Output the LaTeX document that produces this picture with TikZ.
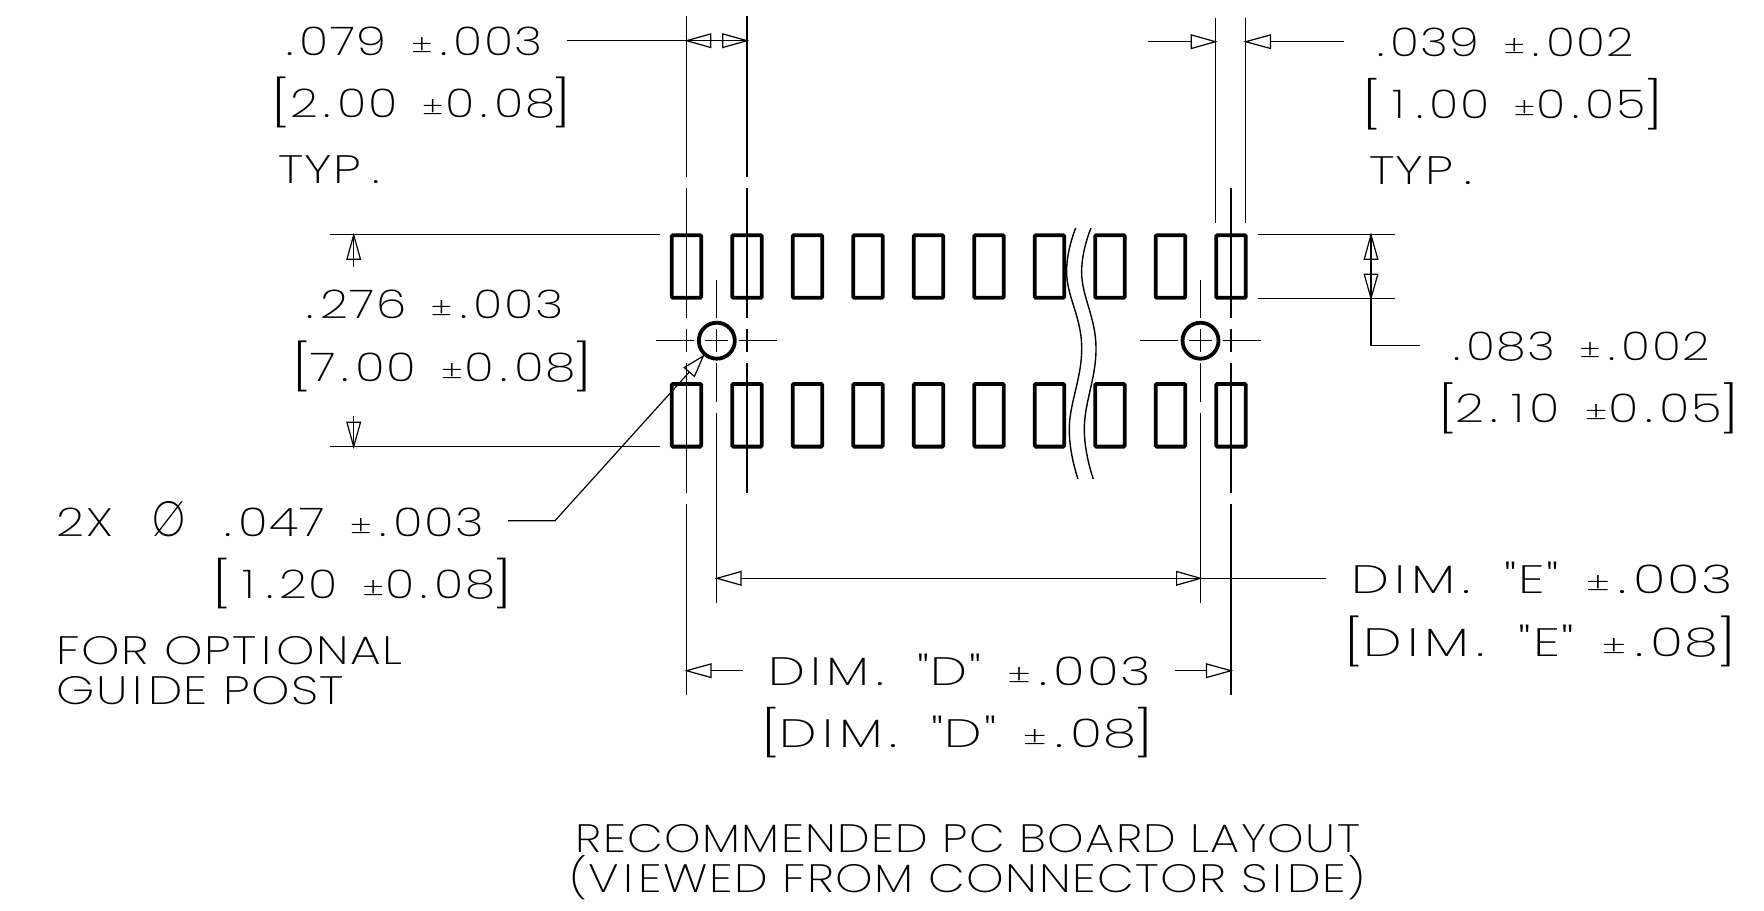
\documentclass[tikz,border=0pt]{standalone}
\usepackage{fontspec}
\usepackage{graphicx}
\usetikzlibrary{calc}
\newfontfamily\cad[LetterSpace=3]{Poppins ExtraLight}
\newfontfamily\cadplain{Poppins ExtraLight}
\newdimen\cadpx \cadpx=0.5pt
\newcommand\cadpm{\scalebox{.72}{±}\kern.03em}
\newcommand\dt{\kern.13em.\kern.13em}
\newcommand\dts{.\kern.13em}
\newcommand\one{\kern.12em 1\kern.1em}
\newcommand\ii{\kern.1em I\kern.1em}
\newcommand\gapw{\hspace{.5em}}
\newcommand\cadfit[2]{\resizebox{#1\cadpx}{\height}{\cad #2}}
% one text line: name, x-left, x-right, baseline, text
\newcommand\cadline[5]{\node[cadtext,yshift=-0.5pt] (#1) at (#2,#4) {\cadfit{\fpeval{#3-#2}}{#5}};}
% bracketed text: name, xL, xR, ytop, ybot, tL, tR, base, text
\newcommand\cadbr[9]{%
  \node[cadtext] (#1) at (#2,#8) {\cadplain
    \kern-5\cadpx\raisebox{\dimexpr\depth+#8\cadpx-#5\cadpx\relax}{\resizebox*{20.5\cadpx}{\dimexpr#5\cadpx-#4\cadpx\relax}{[}}%
    \hspace{\fpeval{#6-#2-15.5}\cadpx}%
    \raisebox{-1\cadpx}{\cadfit{\fpeval{#7-#6}}{#9}}%
    \hspace{\fpeval{#3-#7-15.5}\cadpx}%
    \raisebox{\dimexpr\depth+#8\cadpx-#5\cadpx\relax}{\resizebox*{20.5\cadpx}{\dimexpr#5\cadpx-#4\cadpx\relax}{]}}\kern-5\cadpx};}
\tikzset{
  cadtext/.style={anchor=base west,inner sep=0pt,outer sep=0pt,font=\fontsize{19.8pt}{24pt}\selectfont},
  thinline/.style={draw=black,line width=0.6pt},
  padbox/.style={draw=black,line width=1.9pt,rounded corners=0.6pt,minimum width=14.8pt,minimum height=31.3pt,inner sep=0pt,outer sep=0pt},
  holecirc/.style={circle,draw=black,line width=1.9pt,minimum size=18pt,inner sep=0pt,outer sep=0pt},
  wave/.style={draw=black,line width=0.7pt},
}
\newcommand\arrowhead[4]{\draw[thinline,line join=miter] (#1,#2) -- ($(#3,#4)!3.4pt!90:(#1,#2)$) -- ($(#3,#4)!3.4pt!-90:(#1,#2)$) -- cycle;}
\begin{document}
\begin{tikzpicture}[x=0.5pt,y=-0.5pt]
\useasboundingbox (0,0) rectangle (1764,910);
% pads
\foreach \n/\cx in {0/686.5,1/747,2/807.5,3/868,4/928.5,5/989,6/1049.5,7/1110,8/1170.5,9/1231}{
  \node[padbox] (padT\n) at (\cx,266.5) {};
  \node[padbox] (padB\n) at (\cx,415.3) {};
}
% holes
\node[holecirc] (holeL) at (716.8,340.7) {};
\node[holecirc] (holeR) at (1200.5,340.7) {};
% centre lines
\foreach \sx/\sa/\sb in {686.5/16/176.7,686.5/188.3/318,686.5/329/352,686.5/363/492.7,686.5/504/695,
  747/16/176.7,747/188.3/318,747/329/352,747/363/492.7,
  1231/188.3/318,1231/329/352,1231/363/492.7,1231/504/695,
  716.8/280/318,716.8/329/352,716.8/363/402,716.8/413/602.7,
  1200.5/280/318,1200.5/329/352,1200.5/363/402,1200.5/413/602.7,
  1215.4/17.7/222.7,1245.7/17.7/222.7}{
  \draw[thinline] (\sx,\sa) -- (\sx,\sb);
}
\foreach \sa/\sb in {656/694,705/728,739/777,1140/1178,1189/1212,1223/1261}{
  \draw[thinline] (\sa,340.7) -- (\sb,340.7);
}
% wave break
\draw[wave] plot[smooth,tension=0.7] coordinates {(1075.7,228) (1066.7,275) (1081.7,347) (1069.3,427) (1078,479)};
\draw[wave] plot[smooth,tension=0.7] coordinates {(1091,228) (1081.7,275) (1096,347) (1084.3,427) (1093.3,479)};
% extension lines
\draw[thinline] (330,234.7) -- (660,234.7);
\draw[thinline] (330,446.7) -- (660,446.7);
\draw[thinline] (1257.7,234.7) -- (1395.4,234.7);
\draw[thinline] (1257.7,298.3) -- (1395.4,298.3);
% top-left dimension
\draw[thinline] (567,40.7) -- (747,40.7);
\arrowhead{686.5}{40.7}{710.7}{40.7}
\arrowhead{747}{40.7}{722.8}{40.7}
% top-right dimension
\draw[thinline] (1148,41.7) -- (1191.3,41.7);
\arrowhead{1215.4}{41.7}{1191.3}{41.7}
\draw[thinline] (1270.5,41.7) -- (1343.5,41.7);
\arrowhead{1245.7}{41.7}{1270.5}{41.7}
% .276 dimension
\draw[thinline] (353.7,235) -- (353.7,266.7);
\arrowhead{353.7}{235}{353.7}{259.3}
\draw[thinline] (353.7,446.7) -- (353.7,415.7);
\arrowhead{353.7}{446.7}{353.7}{422.3}
% .083 dimension
\draw[thinline] (1371,234.7) -- (1371,345.7) -- (1419.5,345.7);
\arrowhead{1371}{234.7}{1371}{259.3}
\arrowhead{1371}{298.3}{1371}{274.3}
% hole leader
\draw[thinline] (508,520.7) -- (555,520.7) -- (689.3,372);
\arrowhead{703.3}{356}{689.3}{372}
% dim E
\draw[thinline] (741,578.3) -- (1326,578.3);
\arrowhead{717}{578.3}{741}{578.3}
\arrowhead{1200.5}{578.3}{1176.6}{578.3}
% dim D
\draw[thinline] (711,670.7) -- (742.7,670.7);
\arrowhead{686.5}{670.7}{711}{670.7}
\draw[thinline] (1174.7,670.7) -- (1206.5,670.7);
\arrowhead{1231}{670.7}{1206.5}{670.7}
% texts
\cadline{tA}{286.5}{543}{54.3}{\dts 079\gapw\cadpm\dt 003}
\cadbr{tB}{275.5}{567}{77.3}{128.3}{290}{555}{116.7}{2\dt 00\gapw\cadpm 0\dt 08}
\cadline{tC}{278}{380}{182.3}{TYP\kern.22em.}
\cadline{tD}{1377}{1634}{55}{\dts 039\gapw\cadpm\dt 002}
\cadbr{tE}{1366.6}{1658.6}{78.3}{130}{1386.5}{1645.8}{117.3}{\one\dt 00\gapw\cadpm 0\dt 05}
\cadline{tF}{1369}{1472}{183.3}{TYP\kern.22em.}
\cadline{tG}{306.7}{563.3}{317.3}{\dts 276\gapw\cadpm\dt 003}
\cadbr{tH}{296}{588.3}{340.7}{391.7}{310}{575.7}{380}{7\dt 00\gapw\cadpm 0\dt 08}
\cadline{tI}{1453}{1709.6}{359}{\dts 083\gapw\cadpm\dt 002}
\cadbr{tJ}{1442}{1734.6}{382.7}{434}{1455.6}{1722.3}{421.7}{2\dt\one 0\gapw\cadpm 0\dt 05}
\cadline{tK}{56.7}{484}{535}{2X\hspace{.8em}\scalebox{.85}[1.25]{Ø}\hspace{.8em}\dts 047\gapw\cadpm\dt 003}
\cadbr{tL}{216}{508.3}{558.3}{609}{236.7}{495}{597.3}{\one\dt 20\gapw\cadpm 0\dt 08}
\cadline{tM}{56.7}{402.7}{663.3}{FOR OPT\ii ONAL}
\cadline{tN}{56.7}{344}{703.3}{GU\ii DE POST}
\cadline{tO}{1351}{1733}{592.3}{D\ii M\dt\gapw "E"\gapw\cadpm\dt 003}
\cadbr{tP}{1348.6}{1731.6}{615.7}{666.7}{1363}{1718.7}{655}{D\ii M\dt\gapw "E"\gapw\cadpm\dt 08}
\cadline{tQ}{768}{1150.6}{684.3}{D\ii M\dt\gapw "D"\gapw\cadpm\dt 003}
\cadbr{tR}{765}{1149}{707.7}{758.3}{779.8}{1136.5}{746.7}{D\ii M\dt\gapw "D"\gapw\cadpm\dt 08}
\cadline{tS}{575.7}{1360}{851}{RECOMMENDED PC BOARD LAYOUT}
\cadline{tT}{569}{1365.4}{891}{(V\ii EWED FROM CONNECTOR S\ii DE)}
\end{tikzpicture}
\end{document}
